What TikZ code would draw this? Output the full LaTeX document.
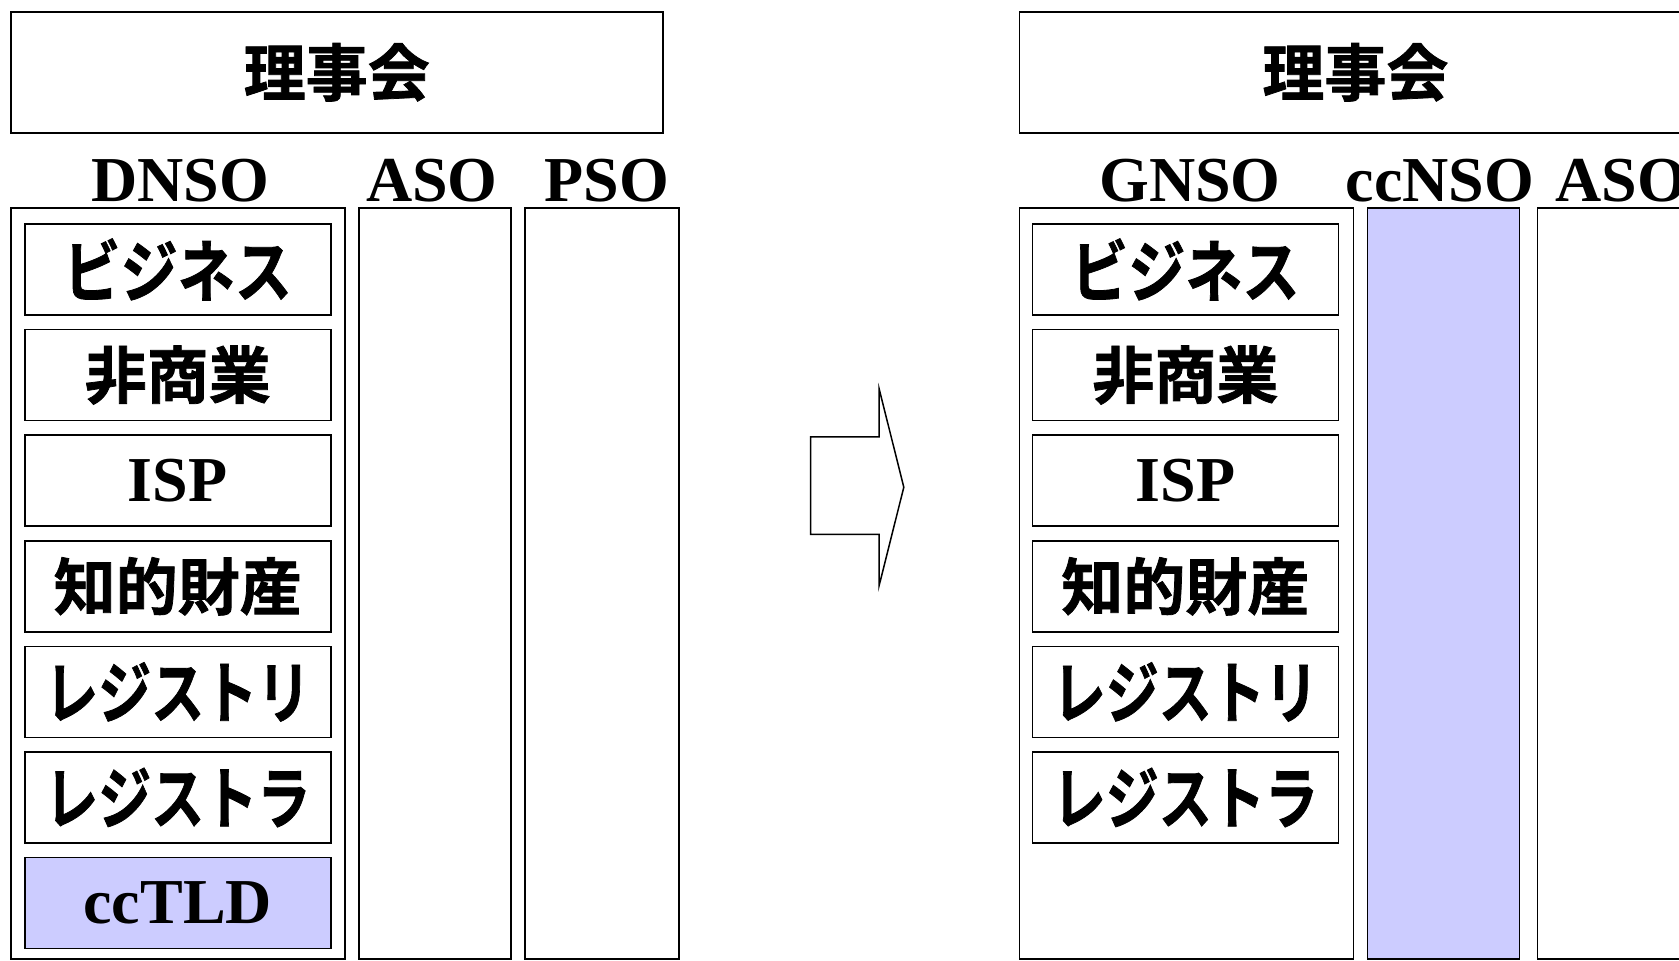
\documentclass[tikz,border=0pt]{standalone}
\usepackage{fontspec}
\usepackage{graphicx}
\setmainfont{Liberation Serif}
\newfontfamily\jp{Noto Sans CJK JP}[BoldFont={* Bold}, BoldFeatures={FakeBold=1.2}]
\definecolor{lav}{HTML}{CCCCFF}
\newcommand\lt{\rmfamily\bfseries\fontsize{64}{64}\selectfont}
\newcommand\kx[2]{\raisebox{-2pt}{\fontsize{68}{68}\selectfont\scalebox{#1}[1]{#2}}}
\newcommand\kj[1]{\raisebox{-3pt}{#1}}
\tikzset{
  frame/.style={draw, line width=1.5pt, inner sep=0pt, outer sep=0pt},
  rowbox/.style={draw, line width=1.6pt, minimum width=306pt, minimum height=91pt,
    inner sep=0pt, outer sep=0pt, font=\jp\bfseries\fontsize{62}{62}\selectfont},
  head/.style={draw, line width=1.5pt, minimum height=121pt, inner sep=0pt,
    font=\jp\bfseries\fontsize{62}{62}\selectfont},
  lat/.style={font=\lt, inner sep=0pt, anchor=base},
  blockarrow/.style={draw, line width=1.5pt, line join=miter},
}
\begin{document}
\begin{tikzpicture}[x=1pt,y=-1pt]
\useasboundingbox (0,0) rectangle (1679,961);
\clip (0,0) rectangle (1679,961);
% ---------- left (before) ----------
\node[head, minimum width=652pt] (boardL) at (336.75,72.3) {\kj{理事会}};
\node[lat] (dnso) at (180,201) {DNSO};
\node[lat] (asoL) at (432,201) {ASO};
\node[lat] (pso) at (607,201) {PSO};
\node[frame, minimum width=334pt, minimum height=751pt] (dnsocol) at (177.75,583.4) {};
\node[frame, minimum width=152pt, minimum height=751pt] (asocolL) at (434.75,583.4) {};
\node[frame, minimum width=154pt, minimum height=751pt] (psocol) at (601.8,583.4) {};
\node[rowbox] (l1) at (177.75,269.5) {\kx{0.84}{ビジネス}};
\node[rowbox] (l2) at (177.75,375.1) {\kj{非商業}};
\node[rowbox] (l3) at (177.75,480.7) {\lt ISP};
\node[rowbox] (l4) at (177.75,586.3) {\kj{知的財産}};
\node[rowbox] (l5) at (177.75,691.9) {\kx{0.78}{レジストリ}};
\node[rowbox] (l6) at (177.75,797.5) {\kx{0.78}{レジストラ}};
\node[rowbox, fill=lav] (l7) at (177.75,903.1) {\lt ccTLD};
% ---------- arrow ----------
\draw[blockarrow] (810.6,436.9) -- (879.1,436.9) -- (879.1,388.7) -- (903.8,487.2)
  -- (879.1,585.7) -- (879.1,534.3) -- (810.6,534.3) -- cycle;
% ---------- right (after) ----------
\node[head, minimum width=672pt] (boardR) at (1355.4,72.3) {\kj{理事会}};
\node[lat] (gnso) at (1190,201) {GNSO};
\node[lat] (ccnso) at (1440,201) {ccNSO};
\node[lat] (asoR) at (1621,201) {ASO};
\node[frame, minimum width=334pt, minimum height=751pt] (gnsocol) at (1186.45,583.4) {};
\node[frame, fill=lav, minimum width=152pt, minimum height=751pt] (ccnsocol) at (1443.45,583.4) {};
\node[frame, minimum width=170pt, minimum height=751pt] (asocolR) at (1622.7,583.4) {};
\node[rowbox] (r1) at (1185.35,269.5) {\kx{0.84}{ビジネス}};
\node[rowbox] (r2) at (1185.35,375.1) {\kj{非商業}};
\node[rowbox] (r3) at (1185.35,480.7) {\lt ISP};
\node[rowbox] (r4) at (1185.35,586.3) {\kj{知的財産}};
\node[rowbox] (r5) at (1185.35,691.9) {\kx{0.78}{レジストリ}};
\node[rowbox] (r6) at (1185.35,797.5) {\kx{0.78}{レジストラ}};
\end{tikzpicture}
\end{document}
